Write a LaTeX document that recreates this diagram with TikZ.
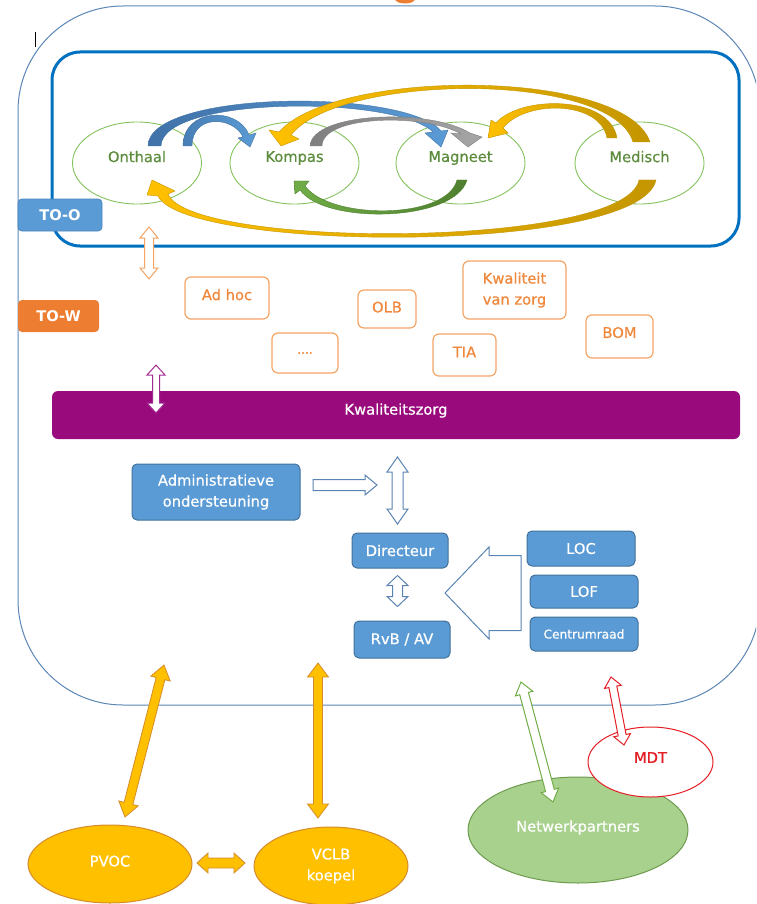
\documentclass[tikz,border=0pt]{standalone}
\usepackage{fontspec}
\setmainfont{DejaVu Sans}[UprightFeatures={FakeBold=0.6}]
\usetikzlibrary{calc,shapes.geometric}
\definecolor{outerline}{HTML}{5B86B6}
\definecolor{innerblue}{HTML}{0070C0}
\definecolor{circgreen}{HTML}{84C25E}
\definecolor{lblgreen}{HTML}{5D8C3E}
\definecolor{toblue}{HTML}{5B9BD5}
\definecolor{toedge}{HTML}{4A86C0}
\definecolor{toorange}{HTML}{ED7D31}
\definecolor{orline}{HTML}{F5A464}
\definecolor{ortext}{HTML}{F0883C}
\definecolor{kzpurple}{HTML}{990B7C}
\definecolor{purarrow}{HTML}{A02C92}
\definecolor{boxblue}{HTML}{5B9BD5}
\definecolor{boxedge}{HTML}{41719C}
\definecolor{hollowblue}{HTML}{5A84B3}
\definecolor{goldfill}{HTML}{FFC000}
\definecolor{golddark}{HTML}{C49600}
\definecolor{goldedge}{HTML}{D58C2A}
\definecolor{netgreen}{HTML}{A9D18E}
\definecolor{netedge}{HTML}{6E9B4E}
\definecolor{mdtred}{HTML}{E31E24}
\definecolor{blueA}{HTML}{3F72A8}
\definecolor{blueB}{HTML}{5B9BD5}
\definecolor{greenA}{HTML}{70AD47}
\definecolor{greenB}{HTML}{4F7F2F}
\definecolor{grayA}{HTML}{7F7F7F}
\definecolor{grayB}{HTML}{A6A6A6}
\newcommand\fs{\fontsize{14.7}{21}\selectfont}
\newcommand\fss{\fontsize{12.2}{15}\selectfont}
% double hollow/filled arrow between two named coordinates
\newcommand\rsdbl[6]{%
  \path let \p1=($(#3)-(#2)$) in \pgfextra{\pgfmathsetmacro\rstmpa{atan2(\y1,\x1)}\global\let\rsAng\rstmpa\pgfmathsetmacro\rstmpb{veclen(\x1,\y1)}\global\let\rsLen\rstmpb};
  \pgfmathsetmacro\rsLenH{\rsLen-#6}%
  \draw[#1,shift={(#2)},rotate=\rsAng] (0pt,0pt) -- (#6pt,#5pt) -- (#6pt,#4pt) -- (\rsLenH pt,#4pt) -- (\rsLenH pt,#5pt) -- (\rsLen pt,0pt) -- (\rsLenH pt,-#5pt) -- (\rsLenH pt,-#4pt) -- (#6pt,-#4pt) -- (#6pt,-#5pt) -- cycle;}
\newcommand\rssgl[6]{%
  \path let \p1=($(#3)-(#2)$) in \pgfextra{\pgfmathsetmacro\rstmpa{atan2(\y1,\x1)}\global\let\rsAng\rstmpa\pgfmathsetmacro\rstmpb{veclen(\x1,\y1)}\global\let\rsLen\rstmpb};
  \pgfmathsetmacro\rsLenH{\rsLen-#6}%
  \draw[#1,shift={(#2)},rotate=\rsAng] (0pt,#4pt) -- (\rsLenH pt,#4pt) -- (\rsLenH pt,#5pt) -- (\rsLen pt,0pt) -- (\rsLenH pt,-#5pt) -- (\rsLenH pt,-#4pt) -- (0pt,-#4pt) -- cycle;}
\begin{document}
\begin{tikzpicture}[x=1pt,y=-1pt,
  circ/.style={ellipse, draw=circgreen, line width=0.9pt, minimum width=129pt, minimum height=82pt, text=lblgreen, text depth=13pt, font=\fs, inner sep=0pt},
  tagbox/.style={rounded corners=4pt, text=white, font=\fs\bfseries, minimum height=32pt, inner sep=0pt},
  orbox/.style={draw=orline, line width=1.2pt, rounded corners=6pt, text=ortext, font=\fs, inner sep=0pt, fill=white, align=center},
  bluebox/.style={fill=boxblue, draw=boxedge, line width=1pt, rounded corners=5pt, text=white, font=\fs, inner sep=0pt, align=center},
  bigell/.style={ellipse, line width=1pt, inner sep=0pt, font=\fs, align=center},
  hollowarr/.style={draw=hollowblue, fill=white, line width=1pt},
  goldarr/.style={fill=goldfill, draw=goldedge, line width=0.8pt},
  curvearr/.style={line width=0.4pt}
]
\useasboundingbox (0,0) rectangle (756,904);
\clip (0,0) rectangle (756,904);
% title fragment and cursor
\fill[toorange] (405,-1) ellipse (10pt and 4.5pt);
\draw[black, line width=0.9pt] (35,32) -- (35,47);
% outer boundary
\draw[outerline, line width=1pt, rounded corners=105pt] (18,6) rectangle (760,705);
% inner box
\draw[innerblue, line width=3pt, rounded corners=28pt] (52,52) rectangle (739,246);
% ellipses
\node[circ] (onthaal) at (137,163) {Onthaal};
\node[circ] (kompas) at (294.5,163) {Kompas};
\node[circ] (magneet) at (460.5,163) {Magneet};
\node[circ] (medisch) at (639.5,163) {Medisch};
% curved arrows
\shadedraw[curvearr, left color=blueA, right color=blueB, draw=blueA] (148,146) .. controls (148,90) and (405,88) .. (441,131) -- (448,130) -- (441,147) -- (425,133) -- (433,132) .. controls (395,95) and (162,96) .. (161,146) -- cycle;
\shadedraw[curvearr, left color=blueA!70!blueB, right color=blueB, draw=boxedge] (183,146) .. controls (183,108) and (238,106) .. (249,135) -- (256,133) -- (250,147) -- (238,138) -- (243,137) .. controls (233,116) and (192,114) .. (192,146) -- cycle;
\shadedraw[curvearr, left color=grayA, right color=grayB, draw=grayA] (310,146) .. controls (312,112) and (430,108) .. (470,133) -- (482,137) -- (468,147) -- (451,133) -- (461,134) .. controls (425,113) and (322,115) .. (322,146) -- cycle;
\shadedraw[curvearr, left color=goldfill, right color=golddark, draw=golddark] (650,142) .. controls (625,68) and (335,68) .. (279,132) -- (269,130) -- (281,146) -- (299,139) -- (291,135) .. controls (340,73) and (612,71) .. (633,142) -- cycle;
\shadedraw[curvearr, left color=goldfill, right color=golddark, draw=golddark] (617,138) .. controls (610,95) and (520,95) .. (496,123) -- (491,120) -- (488,138) -- (508,133) -- (503,128) .. controls (525,100) and (600,100) .. (607,138) -- cycle;
\shadedraw[curvearr, left color=greenA, right color=greenB, draw=greenB] (467,180) .. controls (455,222) and (325,225) .. (300,190) -- (295,194) -- (294,181) -- (309,181) -- (305,186) .. controls (330,220) and (447,220) .. (457,180) -- cycle;
\shadedraw[curvearr, left color=goldfill, right color=golddark, draw=golddark] (656,180) .. controls (640,255) and (185,252) .. (158,196) -- (147,195) -- (152,180) -- (175,191) -- (168,194) .. controls (190,249) and (625,249) .. (639,180) -- cycle;
% tags
\node[tagbox, fill=toblue, draw=toedge, line width=0.8pt, minimum width=84pt] (too) at (60,215) {TO-O};
\node[tagbox, fill=toorange, minimum width=81pt] (tow) at (58.5,316) {TO-W};
% orange boxes
\node[orbox, minimum width=84pt, minimum height=42pt, text depth=7pt] (adhoc) at (227,298) {Ad hoc};
\node[orbox, minimum width=66pt, minimum height=40pt, font=\fss] (dots) at (305,353) {....};
\node[orbox, minimum width=58pt, minimum height=38pt, text depth=4pt] (olb) at (387,309) {OLB};
\node[orbox, minimum width=103pt, minimum height=58pt] (kvz) at (514.5,290) {Kwaliteit\\van zorg};
\node[orbox, minimum width=63pt, minimum height=42pt, text depth=6pt] (tia) at (464.5,355) {TIA};
\node[orbox, minimum width=67pt, minimum height=43pt, text depth=8pt] (bom) at (619.5,336.5) {BOM};
% hollow double arrows near TO-W
\coordinate (oa1) at (149,227);
\coordinate (oa2) at (149,279);
\rsdbl{draw=orline, fill=white, line width=1pt}{oa1}{oa2}{4.5}{9}{11}
\coordinate (pa1) at (156,365);
\coordinate (pa2) at (156,413);
% Kwaliteitszorg bar
\node[fill=kzpurple, rounded corners=6pt, minimum width=688pt, minimum height=48pt, inner sep=0pt, text=white, font=\fs, text depth=12pt] (kz) at (396,415) {Kwaliteitszorg};
\rsdbl{draw=purarrow, fill=white, line width=1pt}{pa1}{pa2}{3.5}{9}{10}
% management boxes
\node[bluebox, minimum width=168pt, minimum height=56pt] (admin) at (216,492) {Administratieve\\ondersteuning};
\node[bluebox, minimum width=96pt, minimum height=35pt] (dir) at (400,550.5) {Directeur};
\node[bluebox, minimum width=96pt, minimum height=37pt] (rvb) at (402,639.5) {RvB / AV};
\node[bluebox, minimum width=108pt, minimum height=35pt] (loc) at (581,548.5) {LOC};
\node[bluebox, minimum width=108pt, minimum height=33pt] (lof) at (584,591.5) {LOF};
\node[bluebox, minimum width=108pt, minimum height=34pt, font=\fss] (centrum) at (584,634) {Centrumraad};
\coordinate (ad1) at (313,485);
\coordinate (ad2) at (377,485);
\rssgl{hollowarr}{ad1}{ad2}{5.5}{10}{12}
\coordinate (dv1) at (397.5,457);
\coordinate (dv2) at (397.5,524);
\rsdbl{hollowarr}{dv1}{dv2}{5.5}{10.5}{15}
\coordinate (dr1) at ($(dir.south)+(-2.5,7)$);
\coordinate (dr2) at ($(rvb.north)+(-4.5,-14)$);
\rsdbl{hollowarr}{dr1}{dr2}{5}{10.5}{10}
\coordinate (bl1) at (521,593);
\coordinate (bl2) at (445,593);
\rssgl{hollowarr}{bl1}{bl2}{37.5}{46}{44}
% bottom ellipses
\node[bigell, fill=goldfill, draw=goldedge, minimum width=164pt, minimum height=78pt, text=white, text depth=6pt] (pvoc) at (110,864) {PVOC};
\node[bigell, fill=goldfill, draw=goldedge, minimum width=154pt, minimum height=78pt, text=white] (vclb) at (331,866) {VCLB\\koepel};
\node[bigell, fill=netgreen, draw=netedge, minimum width=220pt, minimum height=106pt, text=white, text depth=8pt] (net) at (578,830) {Netwerkpartners};
\node[bigell, fill=white, draw=mdtred, minimum width=125pt, minimum height=70pt, text=mdtred, text depth=9pt] (mdt) at (650.5,762) {MDT};
% bottom arrows
\coordinate (pv1) at (125,817);
\coordinate (pv2) at (164,665);
\rsdbl{goldarr}{pv1}{pv2}{4.5}{10}{14}
\coordinate (vc1) at (318,663);
\coordinate (vc2) at (318,818);
\rsdbl{goldarr}{vc1}{vc2}{4.5}{10.5}{14}
\coordinate (pc1) at (197,863);
\coordinate (pc2) at (245,863);
\rsdbl{goldarr}{pc1}{pc2}{5}{10}{11}
\coordinate (nw1) at (521,682);
\coordinate (nw2) at (553,802);
\rsdbl{draw=greenA, fill=white, line width=1pt}{nw1}{nw2}{4.5}{9}{12}
\coordinate (md1) at (611,677);
\coordinate (md2) at (624,745);
\rsdbl{draw=mdtred, fill=white, line width=1pt}{md1}{md2}{4}{8.5}{10}
\end{tikzpicture}
\end{document}
